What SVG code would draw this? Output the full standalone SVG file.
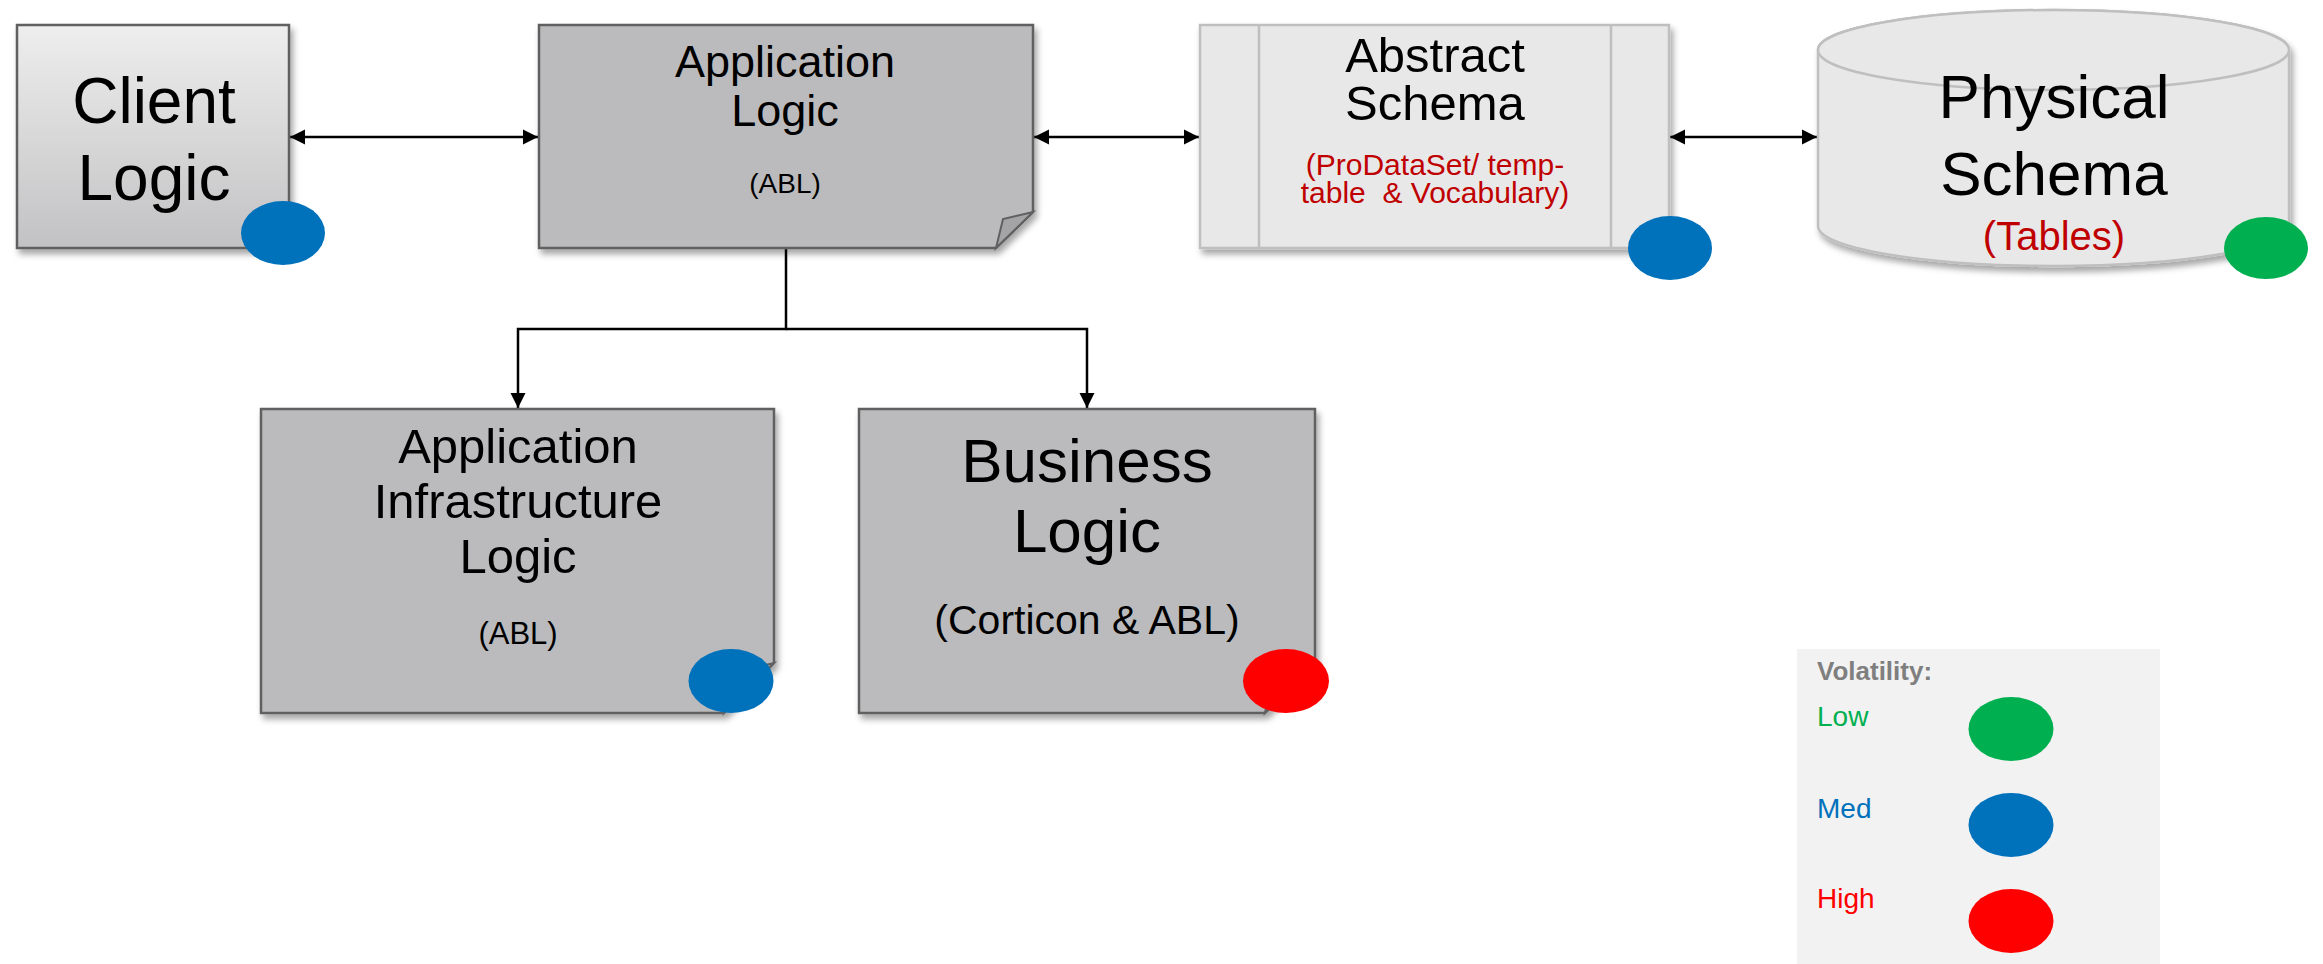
<svg xmlns="http://www.w3.org/2000/svg" width="2323" height="964" viewBox="0 0 2323 964">
<style>
text{font-family:"Liberation Sans",Arial,sans-serif;text-anchor:middle;fill:#000}
.box{fill:#bbbbbd;stroke:#606060;stroke-width:2.5}
.light{fill:#e8e8e8;stroke:#bfbfbf;stroke-width:2.5}
.conn{fill:none;stroke:#000;stroke-width:2.5}
.red{fill:#c00000}
.med{fill:#0071bb}
.low{fill:#00b050}
.high{fill:#ff0000}
.leg{text-anchor:start;font-size:28px}
</style>
<defs>
<linearGradient id="gClient" x1="0" y1="0" x2="0" y2="1">
<stop offset="0" stop-color="#eeeeee"/>
<stop offset="1" stop-color="#c2c2c4"/>
</linearGradient>
<filter id="sh" x="-10%" y="-10%" width="130%" height="130%">
<feDropShadow dx="3" dy="5" stdDeviation="3" flood-color="#000" flood-opacity="0.35"/>
</filter>
<marker id="ah" viewBox="0 0 10 10" refX="10" refY="5" markerUnits="userSpaceOnUse" markerWidth="15" markerHeight="16" orient="auto-start-reverse">
<path d="M0,0 L10,5 L0,10 z" fill="#000"/>
</marker>
</defs>

<g id="connectors">
<line class="conn" x1="290" y1="137" x2="538" y2="137" marker-start="url(#ah)" marker-end="url(#ah)"/>
<line class="conn" x1="1034" y1="137" x2="1199" y2="137" marker-start="url(#ah)" marker-end="url(#ah)"/>
<line class="conn" x1="1670" y1="137" x2="1817" y2="137" marker-start="url(#ah)" marker-end="url(#ah)"/>
<polyline class="conn" points="786,249 786,329 518,329 518,408" marker-end="url(#ah)"/>
<polyline class="conn" points="786,329 1087,329 1087,408" marker-end="url(#ah)"/>
</g>

<g id="client-logic">
<rect x="17" y="25" width="272" height="223" fill="url(#gClient)" stroke="#606060" stroke-width="2.5" filter="url(#sh)"/>
<text x="154" y="123" font-size="64">Client</text>
<text x="154" y="200" font-size="64">Logic</text>
<ellipse class="med" cx="283" cy="233" rx="42" ry="32"/>
</g>

<g id="application-logic">
<path class="box" d="M539,25 H1033 V212 L996,248 H539 Z" filter="url(#sh)"/>
<path d="M1033,212 L1003,219 L996,248 Z" fill="#a4a4a6" stroke="#606060" stroke-width="2"/>
<text x="785" y="77" font-size="45">Application</text>
<text x="785" y="126" font-size="45">Logic</text>
<text x="785" y="193" font-size="28">(ABL)</text>
</g>

<g id="abstract-schema">
<rect class="light" x="1200" y="25" width="469" height="223" filter="url(#sh)"/>
<line x1="1259" y1="25" x2="1259" y2="248" stroke="#bfbfbf" stroke-width="2.5"/>
<line x1="1611" y1="25" x2="1611" y2="248" stroke="#bfbfbf" stroke-width="2.5"/>
<text x="1435" y="72" font-size="49">Abstract</text>
<text x="1435" y="120" font-size="49">Schema</text>
<text class="red" x="1435" y="175" font-size="30">(ProDataSet/ temp-</text>
<text class="red" x="1435" y="203" font-size="30" xml:space="preserve">table  &amp; Vocabulary)</text>
<ellipse class="med" cx="1670" cy="248" rx="42" ry="32"/>
</g>

<g id="physical-schema">
<path class="light" d="M1818,50 V226 A235.5,40 0 0 0 2289,226 V50 A235.5,40 0 0 0 1818,50 Z" filter="url(#sh)"/>
<ellipse cx="2053.5" cy="50" rx="235.5" ry="40" fill="#e8e8e8" stroke="#bfbfbf" stroke-width="2.5"/>
<text x="2054" y="118" font-size="62">Physical</text>
<text x="2054" y="195" font-size="62">Schema</text>
<text class="red" x="2054" y="250" font-size="40">(Tables)</text>
<ellipse class="low" cx="2266" cy="248" rx="42" ry="31"/>
</g>

<g id="application-infrastructure-logic">
<path class="box" d="M261,409 H774 V663 L724,713 H261 Z" filter="url(#sh)"/>
<path d="M774,663 L732,673 L724,713 Z" fill="#a4a4a6" stroke="#606060" stroke-width="2"/>
<text x="518" y="463" font-size="49">Application</text>
<text x="518" y="518" font-size="49">Infrastructure</text>
<text x="518" y="573" font-size="49">Logic</text>
<text x="518" y="644" font-size="31">(ABL)</text>
<ellipse class="med" cx="731" cy="681" rx="42.5" ry="32"/>
</g>

<g id="business-logic">
<path class="box" d="M859,409 H1315 V663 L1265,713 H859 Z" filter="url(#sh)"/>
<path d="M1315,663 L1273,673 L1265,713 Z" fill="#a4a4a6" stroke="#606060" stroke-width="2"/>
<text x="1087" y="482" font-size="62">Business</text>
<text x="1087" y="552" font-size="62">Logic</text>
<text x="1087" y="634" font-size="41">(Corticon &amp; ABL)</text>
<ellipse class="high" cx="1286" cy="681" rx="43" ry="32"/>
</g>

<g id="legend">
<rect x="1797" y="649" width="363" height="315" fill="#f2f2f2"/>
<text x="1817" y="680" font-size="26" font-weight="bold" style="text-anchor:start;fill:#7f7f7f">Volatility:</text>
<text class="leg" x="1817" y="726" style="fill:#00b050">Low</text>
<ellipse class="low" cx="2011" cy="729" rx="42.5" ry="32"/>
<text class="leg" x="1817" y="818" style="fill:#0071bb">Med</text>
<ellipse class="med" cx="2011" cy="825" rx="42.5" ry="32"/>
<text class="leg" x="1817" y="908" style="fill:#ff0000">High</text>
<ellipse class="high" cx="2011" cy="921" rx="42.5" ry="32"/>
</g>
</svg>
